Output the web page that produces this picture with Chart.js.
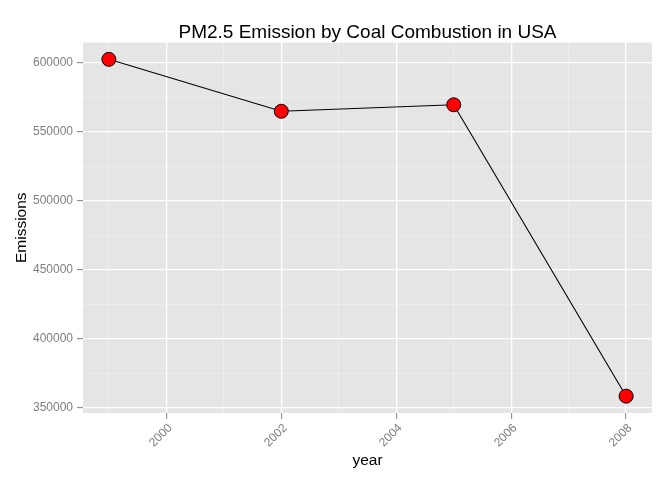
<!DOCTYPE html>
<html>
<head>
<meta charset="utf-8">
<script src="https://cdn.jsdelivr.net/npm/chart.js@4"></script>
<style>
  body { margin: 0; background: #fff; }
</style>
</head>
<body>
<canvas id="myChart" width="672" height="480"></canvas>
<script>
// data
var years = [1999, 2002, 2005, 2008];
var emissions = [602624, 564940, 569655, 358234];

// gridlines, ggplot style (major + minor)
var xMajor = [2000, 2002, 2004, 2006, 2008];
var xMinor = [1999, 2001, 2003, 2005, 2007];
var yMajor = [350000, 400000, 450000, 500000, 550000, 600000];
var yMinor = [375000, 425000, 475000, 525000, 575000];

var titleText = "PM2.5 Emission by Coal Combustion in USA";

// 5% expansion like ggplot
function expand(arr) {
  var lo = Math.min.apply(null, arr), hi = Math.max.apply(null, arr);
  var d = (hi - lo) * 0.05;
  return [lo - d, hi + d];
}
var xr = expand(years), yr = expand(emissions);

var FONT = "'Liberation Sans', Arial, sans-serif";

function setTicks(major, minor) {
  return function (scale) {
    scale.ticks = major.concat(minor).sort(function (a, b) { return a - b; })
      .map(function (v) { return { value: v }; });
  };
}
function isMajor(major, ctx) {
  return ctx.tick && major.indexOf(ctx.tick.value) !== -1;
}

// grey panel + title centred over the panel
var panelBg = {
  id: "panelBg",
  beforeDraw: function (chart) {
    var a = chart.chartArea, c = chart.ctx;
    c.save();
    c.fillStyle = "#e5e5e5";
    c.fillRect(a.left, a.top, a.right - a.left, a.bottom - a.top);
    c.fillStyle = "#000000";
    c.font = "19px " + FONT;
    c.textAlign = "center";
    c.textBaseline = "alphabetic";
    c.fillText(titleText, (a.left + a.right) / 2, 37.5);
    c.restore();
  }
};

var ctx = document.getElementById("myChart").getContext("2d");
var chart = new Chart(ctx, {
  type: "line",
  data: {
    datasets: [
      {
        data: years.map(function (y, i) { return { x: y, y: emissions[i] }; }),
        borderColor: "#000000",
        borderWidth: 1.1,
        tension: 0,
        pointRadius: 7,
        pointBackgroundColor: "#ff0000",
        pointBorderColor: "#000000",
        pointBorderWidth: 1
      }
    ]
  },
  plugins: [panelBg],
  options: {
    responsive: false,
    animation: false,
    layout: { padding: { left: 0, right: 20, top: 42.5, bottom: 0 } },
    plugins: {
      legend: { display: false },
      tooltip: { enabled: false },
      title: { display: false }
    },
    scales: {
      x: {
        type: "linear",
        min: xr[0],
        max: xr[1],
        afterBuildTicks: setTicks(xMajor, xMinor),
        afterFit: function (scale) { scale.height = 67; },
        border: { display: false },
        grid: {
          color: function (c) { return isMajor(xMajor, c) ? "#ffffff" : "#f2f2f2"; },
          lineWidth: function (c) { return isMajor(xMajor, c) ? 1.3 : 0.6; },
          tickColor: function (c) { return isMajor(xMajor, c) ? "#7f7f7f" : "rgba(0,0,0,0)"; },
          tickLength: 6,
          tickWidth: 1
        },
        ticks: {
          autoSkip: false,
          minRotation: 45,
          maxRotation: 45,
          padding: 2,
          labelOffset: 4,
          color: "#7f7f7f",
          font: { family: FONT, size: 12 },
          callback: function (v) { return xMajor.indexOf(v) !== -1 ? String(v) : ""; }
        },
        title: {
          display: true,
          text: "year",
          color: "#000000",
          font: { family: FONT, size: 15.5 },
          padding: { top: 0, bottom: 10 }
        }
      },
      y: {
        min: yr[0],
        max: yr[1],
        afterBuildTicks: setTicks(yMajor, yMinor),
        afterFit: function (scale) { scale.width = 83; },
        border: { display: false },
        grid: {
          color: function (c) { return isMajor(yMajor, c) ? "#ffffff" : "#f2f2f2"; },
          lineWidth: function (c) { return isMajor(yMajor, c) ? 1.3 : 0.6; },
          tickColor: function (c) { return isMajor(yMajor, c) ? "#7f7f7f" : "rgba(0,0,0,0)"; },
          tickLength: 6,
          tickWidth: 1
        },
        ticks: {
          autoSkip: false,
          padding: 4,
          color: "#7f7f7f",
          font: { family: FONT, size: 12 },
          callback: function (v) { return yMajor.indexOf(v) !== -1 ? String(v) : ""; }
        },
        title: {
          display: true,
          text: "Emissions",
          color: "#000000",
          font: { family: FONT, size: 15.5 },
          padding: { top: 12, bottom: 0 }
        }
      }
    }
  }
});
</script>
</body>
</html>
